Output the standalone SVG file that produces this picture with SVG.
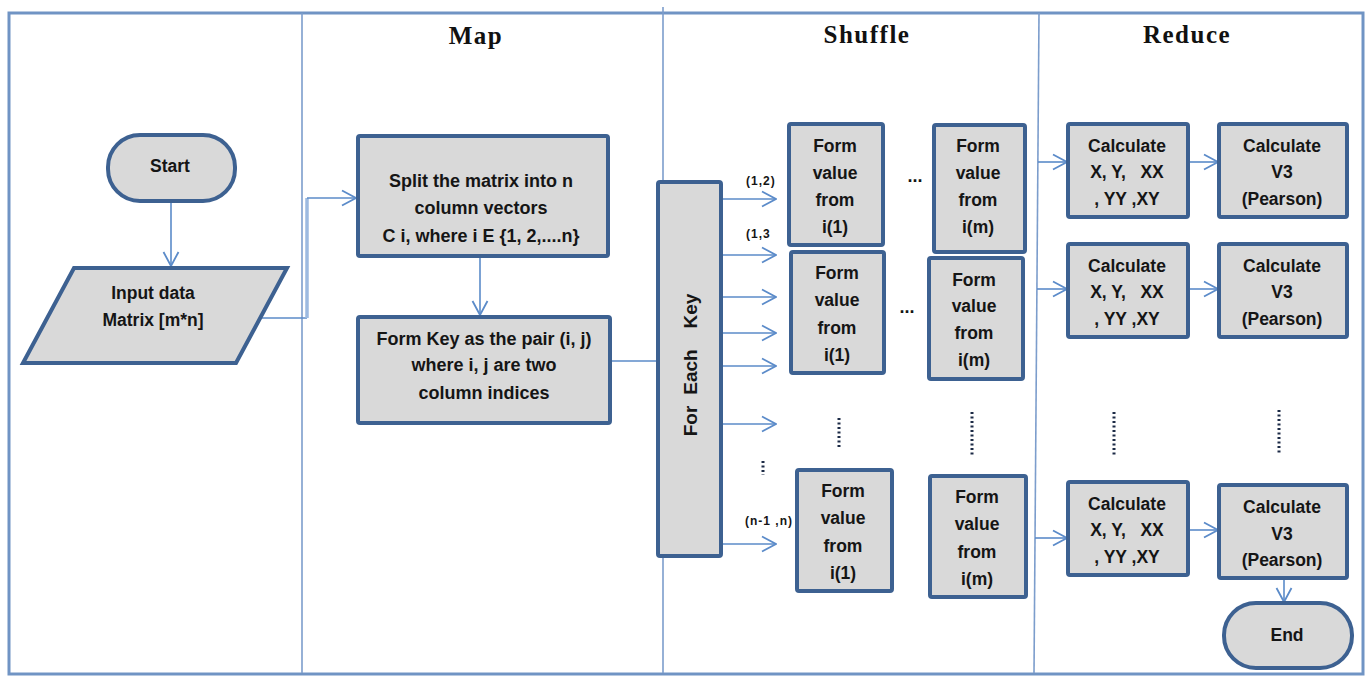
<svg xmlns="http://www.w3.org/2000/svg" width="1367" height="677" viewBox="0 0 1367 677">
<style>
.node{fill:#d9d9d9;stroke:#3d6191;stroke-width:4;}
.t{font-family:"Liberation Sans",Arial,sans-serif;font-weight:bold;font-size:17.5px;fill:#151515;text-anchor:middle;}
.tm{font-size:18px;}
.lbl{font-family:"Liberation Sans",Arial,sans-serif;font-weight:bold;font-size:12px;fill:#151515;letter-spacing:1px;}
.h{font-family:"Liberation Serif","Times New Roman",serif;font-weight:bold;font-size:25px;letter-spacing:1.5px;fill:#111;text-anchor:middle;}
.frame{fill:none;stroke:#7094c4;stroke-width:3;}
.div{stroke:#7c9dcc;stroke-width:1.6;fill:none;}
.c{stroke:#5b8bc9;stroke-width:1.6;fill:none;}
.ca{stroke:#5b8bc9;stroke-width:1.6;fill:none;marker-end:url(#ah);}
.dots{stroke:#1c2b46;stroke-width:3;stroke-dasharray:2 2.5;fill:none;}
.ell{font-family:"Liberation Sans",Arial,sans-serif;font-weight:bold;font-size:18px;fill:#151515;text-anchor:middle;}
</style>
<defs>
<marker id="ah" viewBox="0 0 16 18" refX="15" refY="9" markerWidth="16" markerHeight="18" markerUnits="userSpaceOnUse" orient="auto">
<path d="M1,1.5 L15,9 L1,16.5" fill="none" stroke="#5b8bc9" stroke-width="1.8"/>
</marker>
</defs>
<rect width="1367" height="677" fill="#ffffff"/>
<g id="frame">
<rect class="frame" x="9" y="13" width="1354" height="661"/>
<line class="div" x1="302" y1="13" x2="302" y2="673"/>
<line class="div" x1="663" y1="7" x2="663" y2="673"/>
<line class="div" x1="1039" y1="13" x2="1034" y2="673"/>
<text class="h" x="476" y="44">Map</text>
<text class="h" x="867" y="43">Shuffle</text>
<text class="h" x="1187" y="43">Reduce</text>
</g>
<g id="connectors">
<line class="ca" x1="171" y1="201" x2="171" y2="266"/>
<polyline class="c" points="257,318 307,318"/>
<line x1="307" y1="318" x2="307" y2="198" stroke="#9dbae0" stroke-width="3.5"/>
<line class="ca" x1="307" y1="198" x2="356" y2="198"/>
<line class="ca" x1="480" y1="257" x2="480" y2="315"/>
<line class="c" x1="611" y1="361" x2="657" y2="361"/>
<line class="ca" x1="723" y1="199" x2="776" y2="199"/>
<line class="ca" x1="723" y1="255" x2="776" y2="255"/>
<line class="ca" x1="723" y1="297" x2="776" y2="297"/>
<line class="ca" x1="723" y1="333" x2="776" y2="333"/>
<line class="ca" x1="723" y1="366" x2="776" y2="366"/>
<line class="ca" x1="723" y1="424" x2="776" y2="424"/>
<line class="ca" x1="723" y1="544" x2="776" y2="544"/>
<line class="ca" x1="1038" y1="162" x2="1067" y2="162"/>
<line class="ca" x1="1037" y1="289" x2="1067" y2="289"/>
<line class="ca" x1="1035" y1="538" x2="1067" y2="538"/>
<line class="ca" x1="1189" y1="162" x2="1218" y2="162"/>
<line class="ca" x1="1189" y1="289" x2="1218" y2="289"/>
<line class="ca" x1="1189" y1="530" x2="1218" y2="530"/>
<line class="ca" x1="1284" y1="579" x2="1284" y2="602"/>
</g>
<g id="start">
<rect class="node" x="108" y="135" width="127" height="66" rx="32"/>
<text class="t" x="170" y="172">Start</text>
</g>
<g id="input">
<polygon class="node" points="74,268 287,268 236,363 23,363"/>
<text class="t" x="153" y="299">Input data</text>
<text class="t" x="153" y="326">Matrix [m*n]</text>
</g>
<g id="split">
<rect class="node" x="358" y="136" width="250" height="120" rx="2"/>
<text class="t tm" x="481" y="187">Split the matrix into n</text>
<text class="t tm" x="481" y="214">column vectors</text>
<text class="t tm" x="481" y="242">C i, where i E {1, 2,....n}</text>
</g>
<g id="formkey">
<rect class="node" x="358" y="317" width="252" height="106" rx="2"/>
<text class="t tm" x="484" y="345">Form Key as the pair (i, j)</text>
<text class="t tm" x="484" y="371">where i, j are two</text>
<text class="t tm" x="484" y="399">column indices</text>
</g>
<g id="foreachkey">
<rect class="node" x="658" y="182" width="63" height="374" rx="2"/>
<text class="t" transform="translate(697,311) rotate(-90)" style="font-size:19px">Key</text>
<text class="t" transform="translate(697,372) rotate(-90)" style="font-size:19px">Each</text>
<text class="t" transform="translate(697,421) rotate(-90)" style="font-size:19px">For</text>
</g>
<g id="keylabels">
<text class="lbl" x="746" y="185">(1,2)</text>
<text class="lbl" x="746" y="238">(1,3</text>
<text class="lbl" x="745" y="525">(n-1 ,n)</text>
<line class="dots" x1="763" y1="461" x2="763" y2="475"/>
</g>
<g id="fv11">
<rect class="node" x="789" y="124" width="94" height="121" rx="2"/>
<text class="t" x="835" y="152">Form</text>
<text class="t" x="835" y="179">value</text>
<text class="t" x="835" y="206">from</text>
<text class="t" x="835" y="233">i(1)</text>
</g>
<g id="fv1m">
<rect class="node" x="934" y="125" width="91" height="127" rx="2"/>
<text class="t" x="978" y="152">Form</text>
<text class="t" x="978" y="179">value</text>
<text class="t" x="978" y="206">from</text>
<text class="t" x="978" y="233">i(m)</text>
</g>
<text class="ell" x="915" y="182">...</text>
<g id="fv21">
<rect class="node" x="791" y="252" width="93" height="121" rx="2"/>
<text class="t" x="837" y="279">Form</text>
<text class="t" x="837" y="306">value</text>
<text class="t" x="837" y="334">from</text>
<text class="t" x="837" y="361">i(1)</text>
</g>
<g id="fv2m">
<rect class="node" x="929" y="258" width="94" height="121" rx="2"/>
<text class="t" x="974" y="286">Form</text>
<text class="t" x="974" y="312">value</text>
<text class="t" x="974" y="339">from</text>
<text class="t" x="974" y="366">i(m)</text>
</g>
<text class="ell" x="907" y="313">...</text>
<line class="dots" x1="839" y1="418" x2="839" y2="447"/>
<line class="dots" x1="972" y1="412" x2="972" y2="457"/>
<g id="fv31">
<rect class="node" x="797" y="470" width="95" height="121" rx="2"/>
<text class="t" x="843" y="497">Form</text>
<text class="t" x="843" y="524">value</text>
<text class="t" x="843" y="552">from</text>
<text class="t" x="843" y="579">i(1)</text>
</g>
<g id="fv3m">
<rect class="node" x="930" y="476" width="96" height="121" rx="2"/>
<text class="t" x="977" y="503">Form</text>
<text class="t" x="977" y="530">value</text>
<text class="t" x="977" y="558">from</text>
<text class="t" x="977" y="585">i(m)</text>
</g>
<g id="calc1">
<rect class="node" x="1068" y="124" width="120" height="93" rx="2"/>
<text class="t" x="1127" y="152">Calculate</text>
<text class="t" x="1127" y="178" xml:space="preserve">X, Y,   XX</text>
<text class="t" x="1127" y="205">, YY ,XY</text>
</g>
<g id="v3a">
<rect class="node" x="1219" y="124" width="128" height="93" rx="2"/>
<text class="t" x="1282" y="152">Calculate</text>
<text class="t" x="1282" y="178">V3</text>
<text class="t" x="1282" y="205">(Pearson)</text>
</g>
<g id="calc2">
<rect class="node" x="1068" y="244" width="120" height="93" rx="2"/>
<text class="t" x="1127" y="272">Calculate</text>
<text class="t" x="1127" y="298" xml:space="preserve">X, Y,   XX</text>
<text class="t" x="1127" y="325">, YY ,XY</text>
</g>
<g id="v3b">
<rect class="node" x="1219" y="244" width="128" height="93" rx="2"/>
<text class="t" x="1282" y="272">Calculate</text>
<text class="t" x="1282" y="298">V3</text>
<text class="t" x="1282" y="325">(Pearson)</text>
</g>
<line class="dots" x1="1114" y1="412" x2="1114" y2="456"/>
<line class="dots" x1="1279" y1="410" x2="1279" y2="455"/>
<g id="calc3">
<rect class="node" x="1068" y="482" width="120" height="93" rx="2"/>
<text class="t" x="1127" y="510">Calculate</text>
<text class="t" x="1127" y="536" xml:space="preserve">X, Y,   XX</text>
<text class="t" x="1127" y="563">, YY ,XY</text>
</g>
<g id="v3c">
<rect class="node" x="1219" y="485" width="128" height="93" rx="2"/>
<text class="t" x="1282" y="513">Calculate</text>
<text class="t" x="1282" y="540">V3</text>
<text class="t" x="1282" y="566">(Pearson)</text>
</g>
<g id="end">
<rect class="node" x="1224" y="603" width="128" height="65" rx="32"/>
<text class="t" x="1287" y="641">End</text>
</g>
</svg>
